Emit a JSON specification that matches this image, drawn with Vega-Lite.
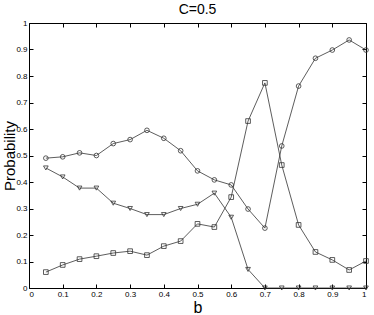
{
"$schema": "https://vega.github.io/schema/vega-lite/v6.json",
"width": 337, "height": 265,
"autosize": "none",
"padding": {"left": 29, "top": 23, "right": 8, "bottom": 27},
"background": "white",
"title": {"text": "C=0.5", "fontSize": 14, "font": "Liberation Sans", "fontWeight": "normal", "color": "black", "offset": 2},
"config": {
  "view": {"stroke": "black", "strokeWidth": 1},
  "axis": {"grid": false, "domain": false, "tickColor": "black", "tickSize": -4, "labelFont": "Liberation Sans", "labelFontSize": 8, "labelColor": "black", "titleFont": "Liberation Sans", "titleFontWeight": "normal", "titleFontSize": 15, "titleColor": "black"}
},
"data": {"values": [
{"b":0.05,"s":"c","p":0.49},{"b":0.1,"s":"c","p":0.495},{"b":0.15,"s":"c","p":0.51},{"b":0.2,"s":"c","p":0.5},{"b":0.25,"s":"c","p":0.545},{"b":0.3,"s":"c","p":0.56},{"b":0.35,"s":"c","p":0.595},{"b":0.4,"s":"c","p":0.565},{"b":0.45,"s":"c","p":0.518},{"b":0.5,"s":"c","p":0.442},{"b":0.55,"s":"c","p":0.408},{"b":0.6,"s":"c","p":0.389},{"b":0.65,"s":"c","p":0.298},{"b":0.7,"s":"c","p":0.226},{"b":0.75,"s":"c","p":0.536},{"b":0.8,"s":"c","p":0.762},{"b":0.85,"s":"c","p":0.867},{"b":0.9,"s":"c","p":0.898},{"b":0.95,"s":"c","p":0.936},{"b":1,"s":"c","p":0.898},
{"b":0.05,"s":"s","p":0.06},{"b":0.1,"s":"s","p":0.087},{"b":0.15,"s":"s","p":0.109},{"b":0.2,"s":"s","p":0.12},{"b":0.25,"s":"s","p":0.132},{"b":0.3,"s":"s","p":0.139},{"b":0.35,"s":"s","p":0.124},{"b":0.4,"s":"s","p":0.158},{"b":0.45,"s":"s","p":0.177},{"b":0.5,"s":"s","p":0.242},{"b":0.55,"s":"s","p":0.23},{"b":0.6,"s":"s","p":0.343},{"b":0.65,"s":"s","p":0.63},{"b":0.7,"s":"s","p":0.774},{"b":0.75,"s":"s","p":0.464},{"b":0.8,"s":"s","p":0.238},{"b":0.85,"s":"s","p":0.136},{"b":0.9,"s":"s","p":0.106},{"b":0.95,"s":"s","p":0.068},{"b":1,"s":"s","p":0.102},
{"b":0.05,"s":"t","p":0.453},{"b":0.1,"s":"t","p":0.419},{"b":0.15,"s":"t","p":0.377},{"b":0.2,"s":"t","p":0.377},{"b":0.25,"s":"t","p":0.32},{"b":0.3,"s":"t","p":0.3},{"b":0.35,"s":"t","p":0.277},{"b":0.4,"s":"t","p":0.277},{"b":0.45,"s":"t","p":0.3},{"b":0.5,"s":"t","p":0.316},{"b":0.55,"s":"t","p":0.358},{"b":0.6,"s":"t","p":0.267},{"b":0.65,"s":"t","p":0.07},{"b":0.7,"s":"t","p":0},{"b":0.75,"s":"t","p":0},{"b":0.8,"s":"t","p":0},{"b":0.85,"s":"t","p":0},{"b":0.9,"s":"t","p":0},{"b":0.95,"s":"t","p":0},{"b":1,"s":"t","p":0}
]},
"layer": [
  {
    "mark": {"type": "line", "color": "#333333", "strokeWidth": 0.8},
    "encoding": {
      "x": {"field": "b", "type": "quantitative", "scale": {"domain": [0, 1], "nice": false}, "axis": {"orient": "bottom", "values": [0,0.1,0.2,0.3,0.4,0.5,0.6,0.7,0.8,0.9,1], "format": "~g", "labelPadding": 6, "title": "b", "titleY": 19, "titleBaseline": "middle", "titleFontSize": 16}},
      "y": {"field": "p", "type": "quantitative", "scale": {"domain": [0, 1], "nice": false}, "axis": {"orient": "left", "values": [0,0.1,0.2,0.3,0.4,0.5,0.6,0.7,0.8,0.9,1], "format": "~g", "labelPadding": 6, "title": "Probability", "titleX": -20, "titleBaseline": "middle"}},
      "detail": {"field": "s"}
    }
  },
  {
    "mark": {"type": "point", "filled": false, "color": "#333333", "strokeWidth": 0.8, "size": 22, "opacity": 1},
    "encoding": {
      "x": {"field": "b", "type": "quantitative", "scale": {"domain": [0, 1], "nice": false}, "axis": {"orient": "top", "values": [0,0.1,0.2,0.3,0.4,0.5,0.6,0.7,0.8,0.9,1], "labels": false, "title": null}},
      "y": {"field": "p", "type": "quantitative", "scale": {"domain": [0, 1], "nice": false}, "axis": {"orient": "right", "values": [0,0.1,0.2,0.3,0.4,0.5,0.6,0.7,0.8,0.9,1], "labels": false, "title": null}},
      "shape": {"field": "s", "type": "nominal", "scale": {"domain": ["c","s","t"], "range": ["circle","square","triangle-down"]}, "legend": null}
    }
  }
],
"resolve": {"axis": {"x": "independent", "y": "independent"}}
}
